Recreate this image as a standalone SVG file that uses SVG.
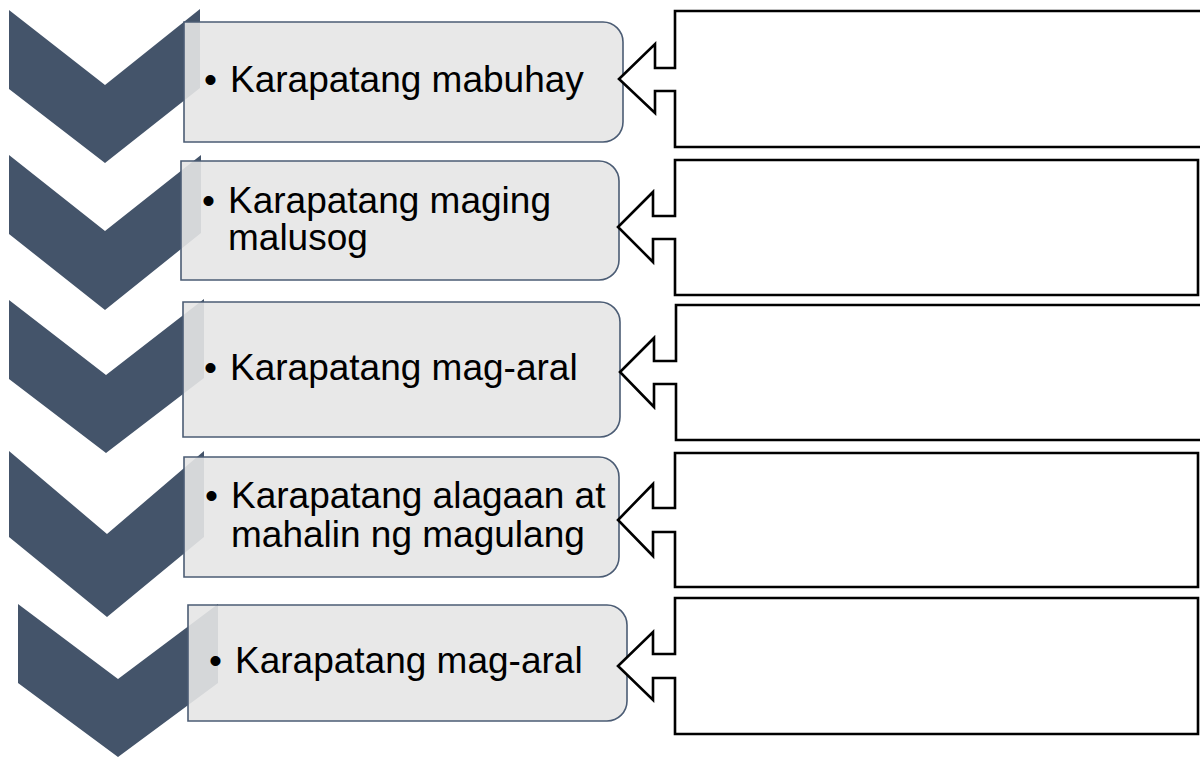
<svg xmlns="http://www.w3.org/2000/svg" width="1200" height="758" viewBox="0 0 1200 758">
<style>
.chev{fill:#44546a;}
.box{fill:#e6e6e6;fill-opacity:0.9;stroke:#4b5c74;stroke-width:1.6;}
.call{fill:#ffffff;stroke:#000000;stroke-width:2.6;stroke-linejoin:miter;}
.t{font-family:"Liberation Sans",Arial,sans-serif;font-size:37px;fill:#000000;}
</style>
<rect width="1200" height="758" fill="#ffffff"/>
<g id="row1">
<path class="chev" d="M9,10 L105,85 L200,9 L200,88 L105,163 L9,89 Z"/>
<path class="box" d="M184,22 H603 A20,20 0 0 1 623,42 V122 A20,20 0 0 1 603,142 H184 Z"/>
<text class="t" x="204" y="92">•</text>
<text class="t" x="230" y="92">Karapatang mabuhay</text>
</g>
<g id="row2">
<path class="chev" d="M9,155 L105,231 L201,155 L201,233 L105,310 L9,234 Z"/>
<path class="box" d="M181,161 H599 A20,20 0 0 1 619,181 V260 A20,20 0 0 1 599,280 H181 Z"/>
<text class="t" x="202" y="213">•</text>
<text class="t" x="228" y="213">Karapatang maging</text>
<text class="t" x="228" y="250">malusog</text>
</g>
<g id="row3">
<path class="chev" d="M9,300 L106,375 L204,299 L204,378 L106,453 L9,379 Z"/>
<path class="box" d="M183,302 H600 A20,20 0 0 1 620,322 V417 A20,20 0 0 1 600,437 H183 Z"/>
<text class="t" x="204" y="380">•</text>
<text class="t" x="230" y="380">Karapatang mag-aral</text>
</g>
<g id="row4">
<path class="chev" d="M9,451 L107,534 L204,451 L204,537 L107,617 L9,537 Z"/>
<path class="box" d="M184,457 H599 A20,20 0 0 1 619,477 V557 A20,20 0 0 1 599,577 H184 Z"/>
<text class="t" x="205" y="508">•</text>
<text class="t" x="231" y="508">Karapatang alagaan at</text>
<text class="t" x="231" y="547">mahalin ng magulang</text>
</g>
<g id="row5">
<path class="chev" d="M18,604 L118,679 L218,604 L218,683 L118,757 L18,683 Z"/>
<path class="box" d="M188,605 H607 A20,20 0 0 1 627,625 V701 A20,20 0 0 1 607,721 H188 Z"/>
<text class="t" x="209" y="673">•</text>
<text class="t" x="235" y="673">Karapatang mag-aral</text>
</g>
<g id="connectors">
<path id="callout1" class="call" d="M675,11 H1203 V147 H675 V91 H655 V113 L619,79 L655,44 V68 H675 Z"/>
<path id="callout2" class="call" d="M675,160 H1198 V295 H675 V239 H653 V262 L618,227 L653,192 V216 H675 Z"/>
<path id="callout3" class="call" d="M676,305 H1203 V440 H676 V384 H654 V407 L620,372 L654,338 V361 H676 Z"/>
<path id="callout4" class="call" d="M675,453 H1198 V587 H675 V532 H653 V556 L618,520 L653,484 V508 H675 Z"/>
<path id="callout5" class="call" d="M675,598 H1198 V734 H675 V678 H653 V700 L618,666 L653,632 V654 H675 Z"/>
</g>
</svg>
